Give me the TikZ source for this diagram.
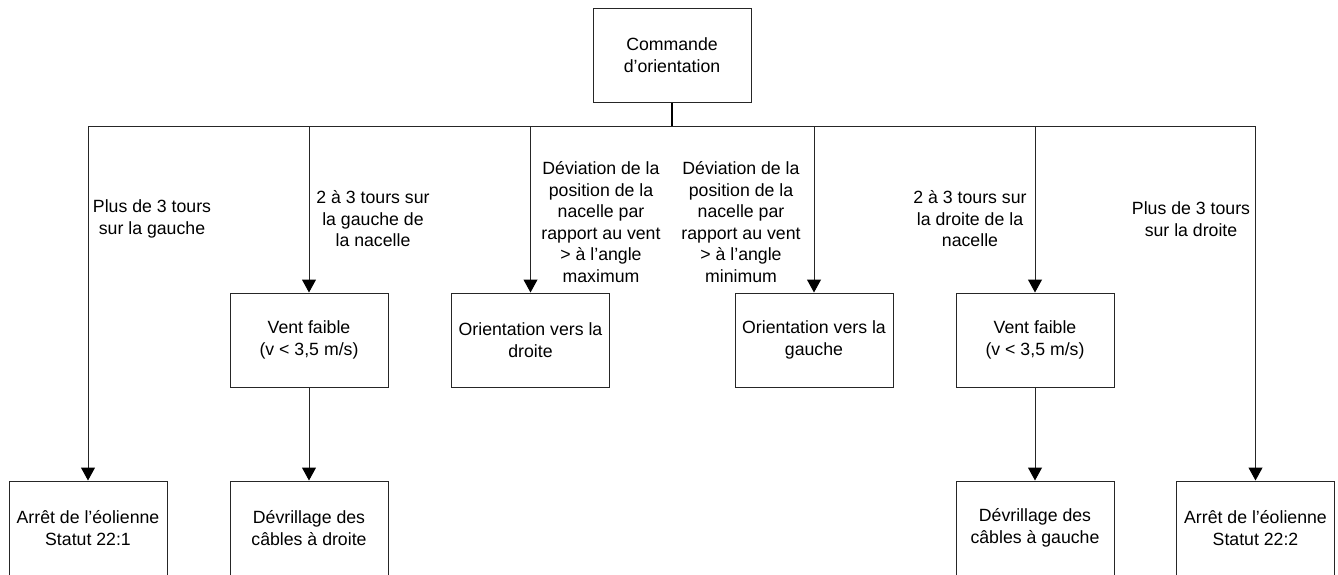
\documentclass[tikz,border=0pt]{standalone}
\usepackage{fontspec}
\setmainfont{Liberation Sans}
\usetikzlibrary{arrows.meta}
\begin{document}
\begin{tikzpicture}[x=1pt,y=-1pt,
  font=\fontsize{17.7}{21.5}\selectfont,
  box/.style={draw=black!85, line width=1pt, minimum width=158pt, minimum height=94pt, align=center, inner sep=0pt},
  lbl/.style={align=center, inner sep=0pt},
  wire/.style={draw=black!85, line width=1pt},
  arr/.style={wire, -{Triangle[width=14pt,length=13pt,color=black]}}]
\clip (0,0) rectangle (1338,574);
\fill[white] (0,0) rectangle (1338,574);
% boxes
\node[box] (top) at (672,55) {Commande\\d’orientation};
\node[box] (vent1) at (309,340) {Vent faible\\(v < 3,5 m/s)};
\node[box] (orD) at (530.5,340) {Orientation vers la\\droite};
\node[box] (orG) at (814,340) {Orientation vers la\\gauche};
\node[box] (vent2) at (1035,340) {Vent faible\\(v < 3,5 m/s)};
\node[box] (arr1) at (88,528) {Arrêt de l’éolienne\\Statut 22:1};
\node[box] (dev1) at (309,528) {Dévrillage des\\câbles à droite};
\node[box] (dev2) at (1035,528) {Dévrillage des\\câbles à gauche};
\node[box] (arr2) at (1255.5,528) {Arrêt de l’éolienne\\Statut 22:2};
% bus
\coordinate (bL) at (88,126);
\coordinate (bR) at (1255.5,126);
\draw[wire] (bL) -- (bR);
\draw[draw=black, line width=1.8pt] (top.south) -- (top.south |- bL);
% arrows
\draw[arr] (bL) -- (arr1);
\draw[arr] (vent1 |- bL) -- (vent1);
\draw[arr] (orD |- bL) -- (orD);
\draw[arr] (orG |- bL) -- (orG);
\draw[arr] (vent2 |- bL) -- (vent2);
\draw[arr] (bR) -- (arr2);
\draw[arr] (vent1) -- (dev1);
\draw[arr] (vent2) -- (dev2);
% labels
\node[lbl] (l1) at (152,219) {Plus de 3 tours\\sur la gauche};
\node[lbl] (l2) at (373,219) {2 à 3 tours sur\\la gauche de\\la nacelle};
\node[lbl] (l3) at (601,222) {Déviation de la\\position de la\\nacelle par\\rapport au vent\\> à l’angle\\maximum};
\node[lbl] (l4) at (741,222) {Déviation de la\\position de la\\nacelle par\\rapport au vent\\> à l’angle\\minimum};
\node[lbl] (l5) at (970,219) {2 à 3 tours sur\\la droite de la\\nacelle};
\node[lbl] (l6) at (1191,219) {Plus de 3 tours\\sur la droite};
\end{tikzpicture}
\end{document}
